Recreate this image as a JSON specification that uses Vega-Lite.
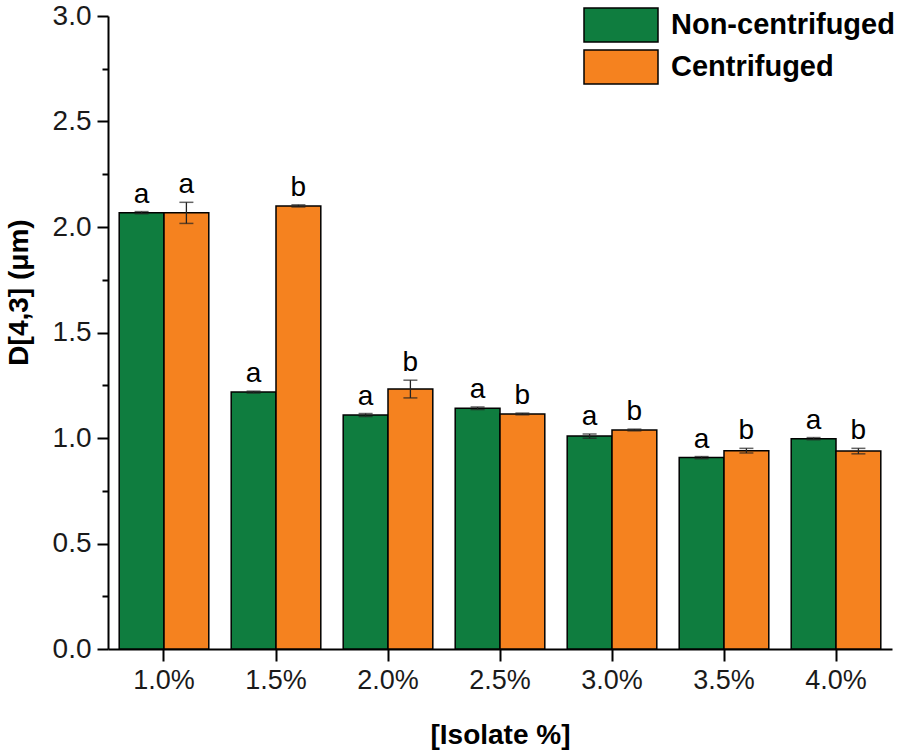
{
  "$schema": "https://vega.github.io/schema/vega-lite/v6.json",
  "width": 784,
  "height": 633,
  "autosize": "none",
  "padding": {"left": 108, "top": 16, "right": 13, "bottom": 101},
  "background": "white",
  "config": {
    "font": "Liberation Sans",
    "view": {"stroke": null},
    "axis": {"grid": false, "domainColor": "black", "domainWidth": 2, "tickColor": "black", "tickWidth": 2, "labelColor": "#1a1a1a", "labelFont": "Liberation Sans", "labelFontSize": 27, "titleFont": "Liberation Sans", "titleFontWeight": "bold", "titleFontSize": 28, "titleColor": "black"},
    "axisY": {"labelFontSize": 28}
  },
  "data": {
    "values": [
      {"conc": "1.0%", "group": "Non-centrifuged", "value": 2.068, "lo": 2.063, "hi": 2.073, "letter": "a"},
      {"conc": "1.0%", "group": "Centrifuged", "value": 2.067, "lo": 2.017, "hi": 2.117, "letter": "a"},
      {"conc": "1.5%", "group": "Non-centrifuged", "value": 1.218, "lo": 1.213, "hi": 1.222, "letter": "a"},
      {"conc": "1.5%", "group": "Centrifuged", "value": 2.100, "lo": 2.095, "hi": 2.105, "letter": "b"},
      {"conc": "2.0%", "group": "Non-centrifuged", "value": 1.109, "lo": 1.102, "hi": 1.116, "letter": "a"},
      {"conc": "2.0%", "group": "Centrifuged", "value": 1.232, "lo": 1.190, "hi": 1.274, "letter": "b"},
      {"conc": "2.5%", "group": "Non-centrifuged", "value": 1.141, "lo": 1.135, "hi": 1.147, "letter": "a"},
      {"conc": "2.5%", "group": "Centrifuged", "value": 1.114, "lo": 1.110, "hi": 1.118, "letter": "b"},
      {"conc": "3.0%", "group": "Non-centrifuged", "value": 1.009, "lo": 0.999, "hi": 1.019, "letter": "a"},
      {"conc": "3.0%", "group": "Centrifuged", "value": 1.038, "lo": 1.034, "hi": 1.042, "letter": "b"},
      {"conc": "3.5%", "group": "Non-centrifuged", "value": 0.907, "lo": 0.902, "hi": 0.912, "letter": "a"},
      {"conc": "3.5%", "group": "Centrifuged", "value": 0.940, "lo": 0.929, "hi": 0.951, "letter": "b"},
      {"conc": "4.0%", "group": "Non-centrifuged", "value": 0.997, "lo": 0.992, "hi": 1.002, "letter": "a"},
      {"conc": "4.0%", "group": "Centrifuged", "value": 0.938, "lo": 0.925, "hi": 0.951, "letter": "b"}
    ]
  },
  "encoding": {
    "x": {
      "field": "conc", "type": "nominal", "sort": null,
      "scale": {"paddingInner": 0.2, "paddingOuter": 0.1},
      "axis": {"title": "[Isolate %]", "labelAngle": 0, "tickSize": 12, "labelPadding": 6, "titlePadding": 28}
    },
    "xOffset": {"field": "group", "type": "nominal", "scale": {"domain": ["Non-centrifuged", "Centrifuged"]}}
  },
  "layer": [
    {
      "mark": {"type": "bar", "stroke": "black", "strokeWidth": 1.5},
      "encoding": {
        "y": {
          "field": "value", "type": "quantitative",
          "scale": {"domain": [0, 3], "nice": false},
          "axis": {
            "title": "D[4,3] (μm)",
            "values": [0, 0.25, 0.5, 0.75, 1, 1.25, 1.5, 1.75, 2, 2.25, 2.5, 2.75, 3],
            "labelExpr": "(round(datum.value*4) % 2 == 0) ? format(datum.value, '.1f') : ''",
            "tickSize": {"condition": {"test": "round(datum.value*4) % 2 == 1", "value": 6}, "value": 11},
            "labelPadding": 6,
            "titlePadding": 19,
            "titleY": 276
          }
        },
        "color": {
          "field": "group", "type": "nominal",
          "scale": {"domain": ["Non-centrifuged", "Centrifuged"], "range": ["#0f7d3f", "#f5821f"]},
          "legend": {
            "title": null,
            "orient": "none",
            "legendX": 475,
            "legendY": -9,
            "symbolType": "M-1,-0.46H1V0.46H-1Z",
            "symbolSize": 5476,
            "symbolStrokeColor": "black",
            "symbolStrokeWidth": 1.5,
            "symbolOpacity": 1,
            "clipHeight": 36,
            "rowPadding": 6,
            "labelFont": "Liberation Sans",
            "labelFontSize": 29,
            "labelFontWeight": "bold",
            "labelColor": "black",
            "labelOffset": 12,
            "labelLimit": 400
          }
        }
      }
    },
    {
      "mark": {"type": "rule", "color": "#222", "strokeWidth": 1.3},
      "encoding": {
        "y": {"field": "lo", "type": "quantitative"},
        "y2": {"field": "hi"}
      }
    },
    {
      "mark": {"type": "tick", "color": "#222", "thickness": 1.5, "size": 14},
      "encoding": {
        "y": {"field": "hi", "type": "quantitative"}
      }
    },
    {
      "mark": {"type": "tick", "color": "#222", "thickness": 1.5, "size": 14},
      "encoding": {
        "y": {"field": "lo", "type": "quantitative"}
      }
    },
    {
      "mark": {"type": "text", "baseline": "bottom", "dy": -3, "fontSize": 28, "font": "Liberation Sans", "color": "black"},
      "encoding": {
        "y": {"field": "hi", "type": "quantitative"},
        "text": {"field": "letter"}
      }
    }
  ]
}
